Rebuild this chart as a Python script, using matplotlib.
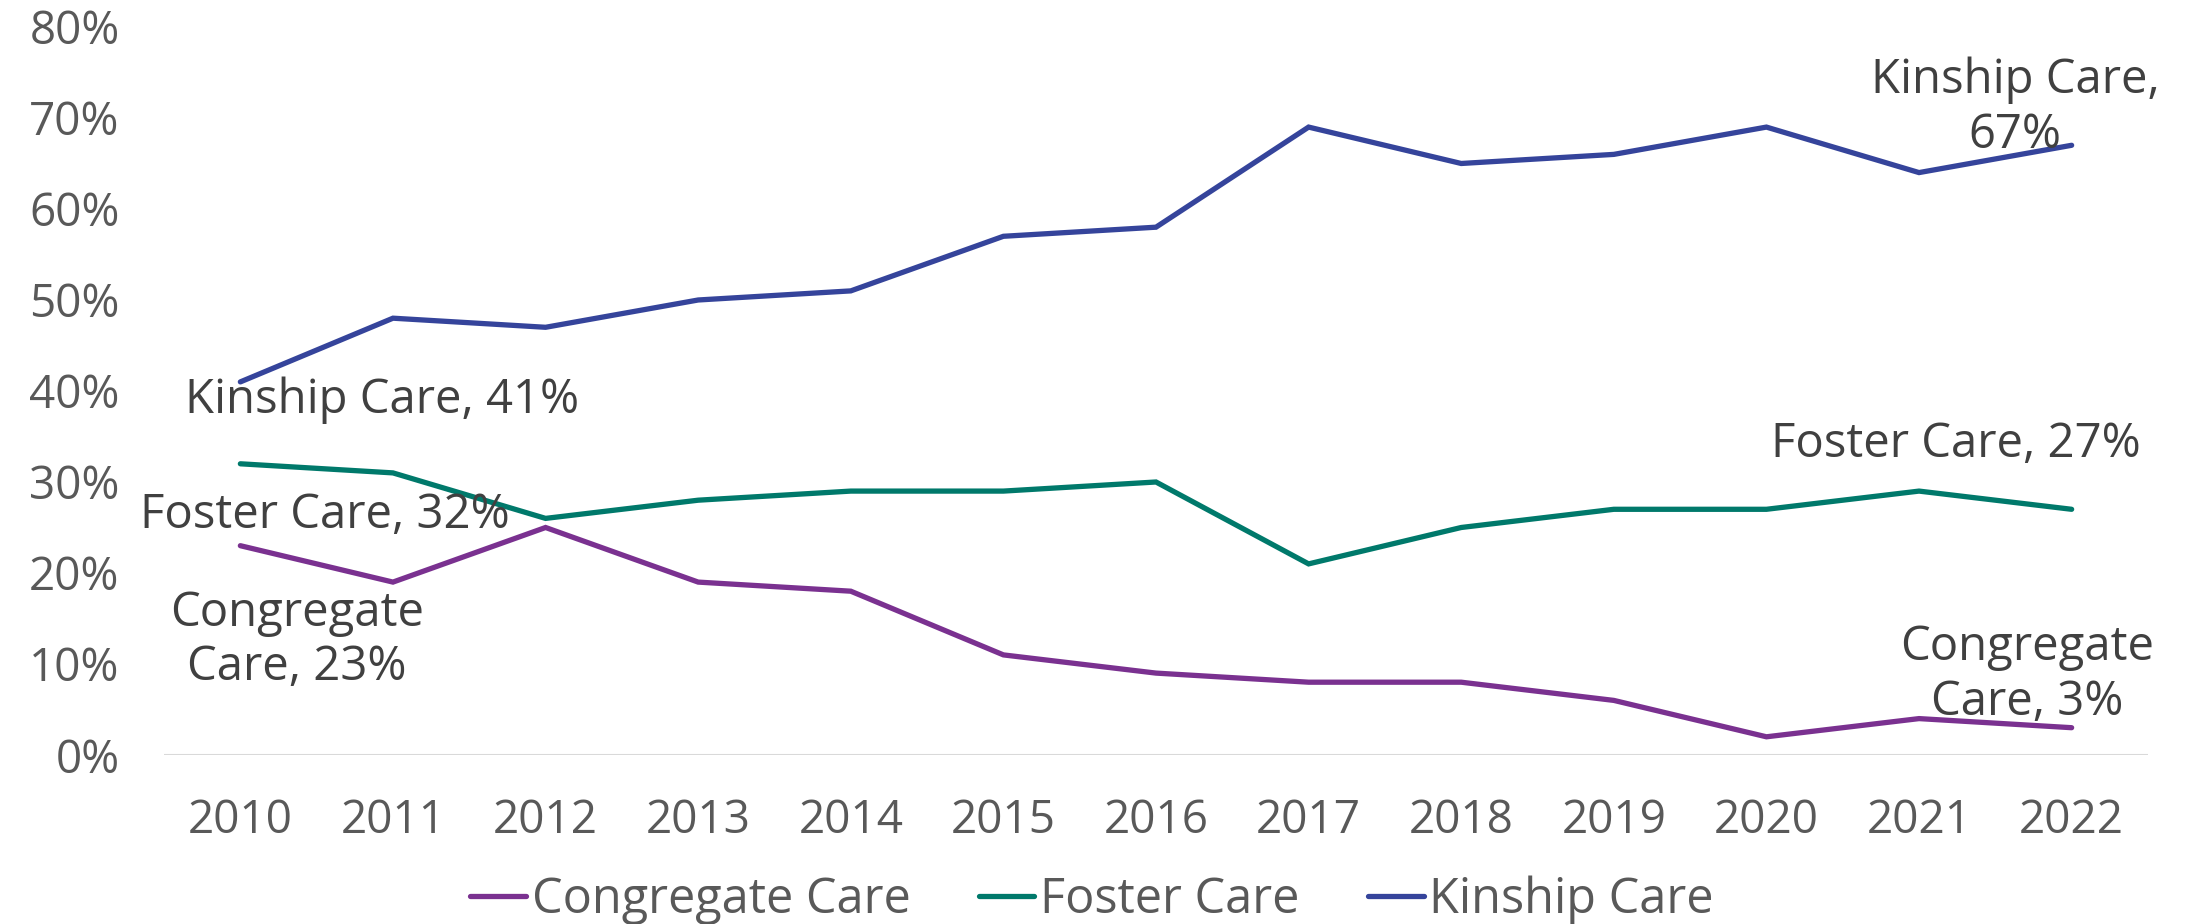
import matplotlib
matplotlib.use('Agg')
import matplotlib.pyplot as plt
from matplotlib.ticker import PercentFormatter

# =============================
# DATOS
# =============================
years = ["2010", "2011", "2012", "2013", "2014", "2015", "2016",
         "2017", "2018", "2019", "2020", "2021", "2022"]
congregate = [23, 19, 25, 19, 18, 11, 9, 8, 8, 6, 2, 4, 3]
foster = [32, 31, 26, 28, 29, 29, 30, 21, 25, 27, 27, 29, 27]
kinship = [41, 48, 47, 50, 51, 57, 58, 69, 65, 66, 69, 64, 67]

series_names = ["Congregate Care", "Foster Care", "Kinship Care"]
colors = ["#7A3190", "#00796B", "#35449B"]

plt.rcParams['font.family'] = ['Open Sans', 'DejaVu Sans']

fig = plt.figure(figsize=(22.08, 9.24), dpi=100)
ax = fig.add_axes([0.0743, 0.1829, 0.8985, 0.7879])

x = list(range(len(years)))
for vals, name, col in zip([congregate, foster, kinship], series_names, colors):
    ax.plot(x, vals, color=col, lw=3.8, label=name, solid_capstyle='round',
            solid_joinstyle='miter')

ax.set_xlim(-0.5, len(years) - 0.5)
ax.set_ylim(0, 80)
ax.set_yticks(range(0, 81, 10))
ax.yaxis.set_major_formatter(PercentFormatter(decimals=0))
ax.set_xticks(x)
ax.set_xticklabels(years)

for s in ax.spines.values():
    s.set_visible(False)
ax.axhline(0, color="#D9D9D9", lw=1.5, zorder=0)
ax.tick_params(axis='both', length=0, labelsize=33, labelcolor="#595959")
ax.tick_params(axis='y', pad=32)
ax.tick_params(axis='x', pad=31)

# etiquetas de datos
lab = dict(fontsize=34, color="#404040", ha='center', va='center')
ax.text(0.93, 39.0, "Kinship Care, 41%", **lab)
ax.text(11.63, 71.1, "Kinship Care,\n67%", **lab)
ax.text(0.557, 26.4, "Foster Care, 32%", **lab)
ax.text(0.37, 12.6, "Congregate\nCare, 23%", **lab)
ax.text(11.24, 34.1, "Foster Care, 27%", **lab)
ax.text(11.71, 8.8, "Congregate\nCare, 3%", **lab)

leg = fig.legend(loc='center', bbox_to_anchor=(1092 / 2208, 1 - 900 / 924),
                 ncol=3, frameon=False, fontsize=35, handlelength=1.15,
                 handletextpad=0.12, columnspacing=1.4)
for t in leg.get_texts():
    t.set_color("#595959")

fig.savefig("out.png", dpi=100)
